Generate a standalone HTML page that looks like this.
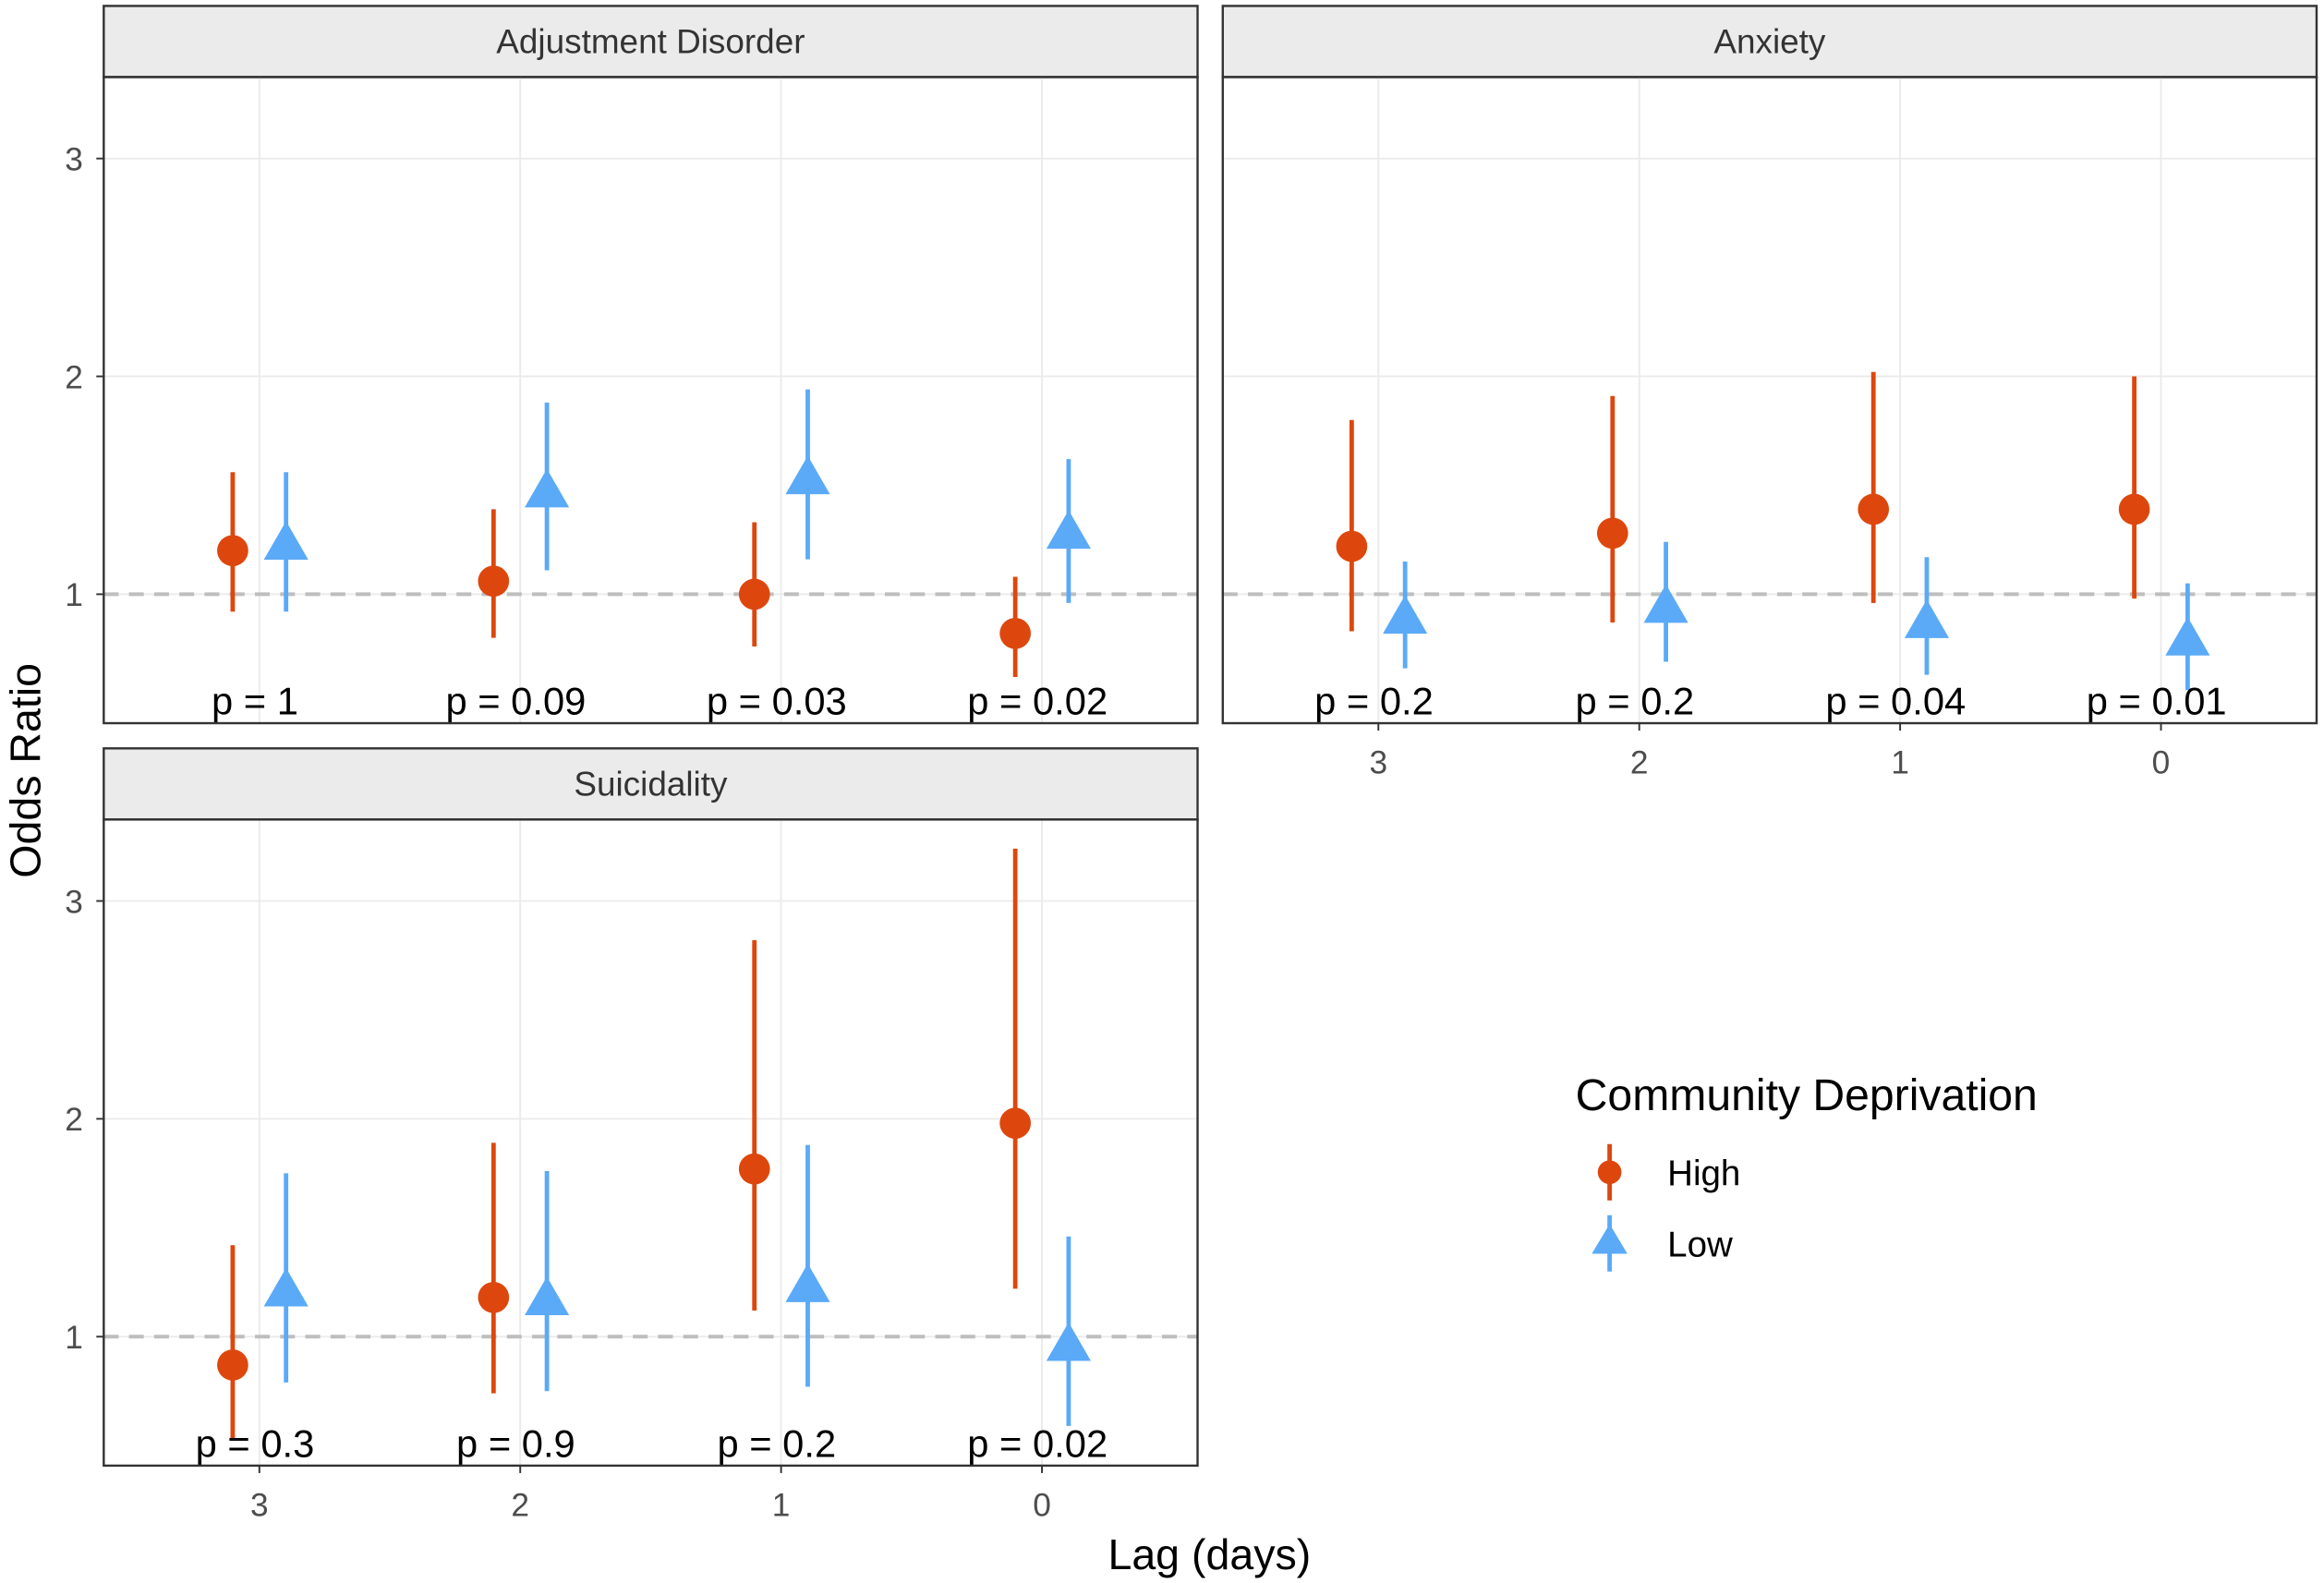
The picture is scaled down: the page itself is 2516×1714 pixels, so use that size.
<!DOCTYPE html>
<html><head><meta charset="utf-8">
<style>
html,body{margin:0;padding:0;background:#fff;}
svg{display:block;font-family:"Liberation Sans",Arial,sans-serif;}
</style></head>
<body>
<svg id="chart" width="2516" height="1714" viewBox="0 0 1568 1068.2" preserveAspectRatio="none" xmlns="http://www.w3.org/2000/svg">
<g id="root"></g>
</svg>
<script>
const lags = [3, 2, 1, 0];
const panelNames = ["Adjustment Disorder", "Anxiety", "Suicidality"];
// Adjustment Disorder
const adjHighEst = [1.20, 1.06, 1.00, 0.82];
const adjHighLo = [0.92, 0.80, 0.76, 0.62];
const adjHighHi = [1.56, 1.39, 1.33, 1.08];
const adjLowEst = [1.22, 1.46, 1.52, 1.27];
const adjLowLo = [0.92, 1.11, 1.16, 0.96];
const adjLowHi = [1.56, 1.88, 1.94, 1.62];
const adjP = ["p = 1", "p = 0.09", "p = 0.03", "p = 0.02"];
// Anxiety
const anxHighEst = [1.22, 1.28, 1.39, 1.39];
const anxHighLo = [0.83, 0.87, 0.96, 0.98];
const anxHighHi = [1.80, 1.91, 2.02, 2.00];
const anxLowEst = [0.88, 0.93, 0.86, 0.78];
const anxLowLo = [0.66, 0.69, 0.63, 0.56];
const anxLowHi = [1.15, 1.24, 1.17, 1.05];
const anxP = ["p = 0.2", "p = 0.2", "p = 0.04", "p = 0.01"];
// Suicidality
const suiHighEst = [0.87, 1.18, 1.77, 1.98];
const suiHighLo = [0.53, 0.74, 1.12, 1.22];
const suiHighHi = [1.42, 1.89, 2.82, 3.24];
const suiLowEst = [1.20, 1.16, 1.22, 0.95];
const suiLowLo = [0.79, 0.75, 0.77, 0.59];
const suiLowHi = [1.75, 1.76, 1.88, 1.46];
const suiP = ["p = 0.3", "p = 0.9", "p = 0.2", "p = 0.02"];
const yTicks = [1, 2, 3];
const xTickLabels = ["3", "2", "1", "0"];

const NS = "http://www.w3.org/2000/svg";
const root = document.getElementById("root");
const HIGH = "#DD470D", LOW = "#5AAAF8";
function mk(tag, attrs, parent, text) {
  const e = document.createElementNS(NS, tag);
  for (const k in attrs) e.setAttribute(k, attrs[k]);
  if (text !== undefined) e.textContent = text;
  (parent || root).appendChild(e);
  return e;
}
const panels = [
  {name: panelNames[0], x0: 70, x1: 808, sy: 4, top: 52, bot: 488, d: [adjHighEst, adjHighLo, adjHighHi, adjLowEst, adjLowLo, adjLowHi], p: adjP, yAxis: true, xAxis: false, key: "adjustment"},
  {name: panelNames[1], x0: 825, x1: 1563, sy: 4, top: 52, bot: 488, d: [anxHighEst, anxHighLo, anxHighHi, anxLowEst, anxLowLo, anxLowHi], p: anxP, yAxis: false, xAxis: true, key: "anxiety"},
  {name: panelNames[2], x0: 70, x1: 808, sy: 505, top: 553, bot: 989, d: [suiHighEst, suiHighLo, suiHighHi, suiLowEst, suiLowLo, suiLowHi], p: suiP, yAxis: true, xAxis: true, key: "suicidality"}
];
const yMin = 0.408, yMax = 3.374;
panels.forEach(P => {
  const g = mk("g", {});
  
  
  const yS = v => P.bot - (v - yMin) / (yMax - yMin) * (P.bot - P.top);
  const xS = i => P.x0 + 105 + i * 176;
  const strip = mk("rect", {x: P.x0, y: P.sy, width: P.x1 - P.x0, height: P.top - P.sy, fill: "#EBEBEB", stroke: "#333", "stroke-width": 1.5}, g);
  
  
  const st = mk("text", {x: (P.x0 + P.x1) / 2, y: P.sy + 32, "text-anchor": "middle", "font-size": 23, fill: "#333"}, g, P.name);
  
  
  yTicks.forEach(t => {
    const gl = mk("line", {x1: P.x0, x2: P.x1, y1: yS(t), y2: yS(t), stroke: "#EBEBEB", "stroke-width": 1.2}, g);
    
    
  });
  lags.forEach((l, i) => {
    const gl = mk("line", {x1: xS(i), x2: xS(i), y1: P.top, y2: P.bot, stroke: "#EBEBEB", "stroke-width": 1.2}, g);
    
    
  });
  const ref = mk("line", {x1: P.x0, x2: P.x1, y1: yS(1), y2: yS(1), stroke: "#BEBEBE", "stroke-width": 2.5, "stroke-dasharray": "10 7"}, g);
  
  
  lags.forEach((l, i) => {
    const xh = xS(i) - 18, xl = xS(i) + 18;
    const eh = mk("line", {x1: xh, x2: xh, y1: yS(P.d[1][i]), y2: yS(P.d[2][i]), stroke: HIGH, "stroke-width": 3}, g);
    
    
    const ph = mk("circle", {cx: xh, cy: yS(P.d[0][i]), r: 10.5, fill: HIGH}, g);
    
    
    const el = mk("line", {x1: xl, x2: xl, y1: yS(P.d[4][i]), y2: yS(P.d[5][i]), stroke: LOW, "stroke-width": 3}, g);
    
    
    const cy = yS(P.d[3][i]);
    const pl = mk("polygon", {points: `${xl},${cy - 17} ${xl - 15},${cy + 9} ${xl + 15},${cy + 9}`, fill: LOW}, g);
    
    
    const pt = mk("text", {x: xS(i) - 3, y: P.bot - 6, "text-anchor": "middle", "font-size": 26, fill: "#000"}, g, P.p[i]);
    
    
  });
  const border = mk("rect", {x: P.x0, y: P.top, width: P.x1 - P.x0, height: P.bot - P.top, fill: "none", stroke: "#333", "stroke-width": 1.5}, g);
  
  
  if (P.yAxis) yTicks.forEach(t => {
    const tk = mk("line", {x1: P.x0 - 5, x2: P.x0, y1: yS(t), y2: yS(t), stroke: "#333", "stroke-width": 1.2}, g);
    
    
    const tl = mk("text", {x: P.x0 - 14, y: yS(t) + 8, "text-anchor": "end", "font-size": 22, fill: "#4D4D4D"}, g, String(t));
    
    
  });
  if (P.xAxis) lags.forEach((l, i) => {
    const tk = mk("line", {x1: xS(i), x2: xS(i), y1: P.bot, y2: P.bot + 5, stroke: "#333", "stroke-width": 1.2}, g);
    
    
    const tl = mk("text", {x: xS(i), y: P.bot + 34, "text-anchor": "middle", "font-size": 22, fill: "#4D4D4D"}, g, xTickLabels[i]);
    
    
  });
});
const yt = mk("text", {x: 0, y: 0, transform: "translate(27,520) rotate(-90)", "text-anchor": "middle", "font-size": 29, fill: "#000"}, root, "Odds Ratio");


const xt = mk("text", {x: 816, y: 1059, "text-anchor": "middle", "font-size": 29, fill: "#000"}, root, "Lag (days)");


const lg = mk("g", {});


const lt = mk("text", {x: 1063, y: 749, "font-size": 30, fill: "#000"}, lg, "Community Deprivation");


const l1 = mk("g", {}, lg);


mk("line", {x1: 1086, x2: 1086, y1: 772, y2: 810, stroke: HIGH, "stroke-width": 3}, l1);
mk("circle", {cx: 1086, cy: 791, r: 8, fill: HIGH}, l1);
mk("text", {x: 1125, y: 800, "font-size": 24, fill: "#000"}, l1, "High");
const l2 = mk("g", {}, lg);


mk("line", {x1: 1086, x2: 1086, y1: 820, y2: 858, stroke: LOW, "stroke-width": 3}, l2);
mk("polygon", {points: "1086,826 1074,846 1098,846", fill: LOW}, l2);
mk("text", {x: 1125, y: 848, "font-size": 24, fill: "#000"}, l2, "Low");
</script>
</body></html>
